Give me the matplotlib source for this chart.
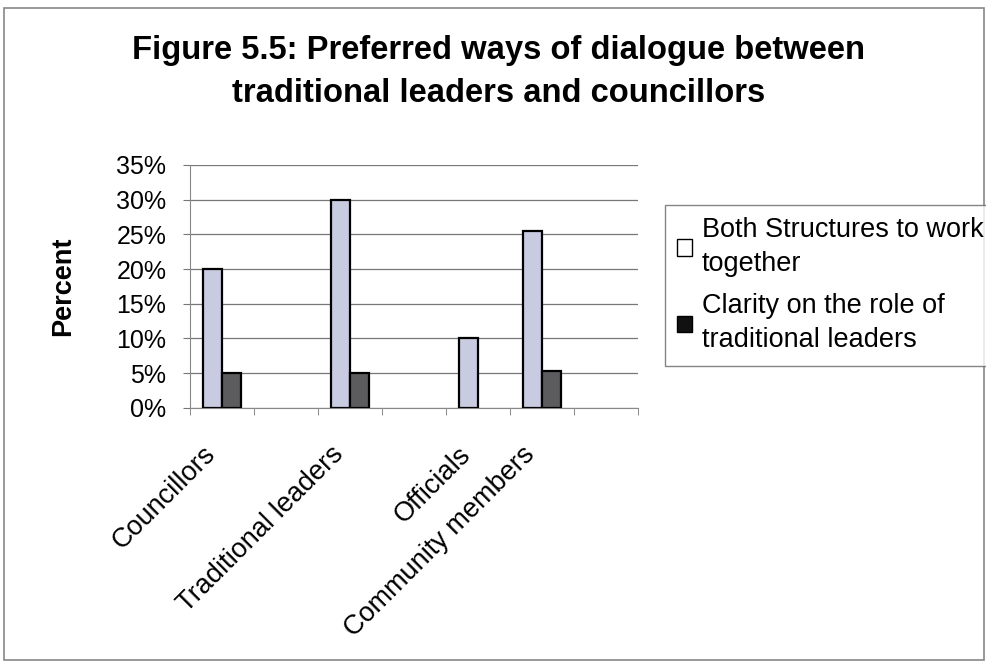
import matplotlib
matplotlib.use("Agg")
import matplotlib.pyplot as plt
from matplotlib.patches import Patch, Rectangle
from matplotlib.transforms import ScaledTranslation
import numpy as np

plt.rcParams["font.family"] = ["Liberation Sans", "DejaVu Sans"]

# category slots (blank slots are empty categories in the original sheet)
categories = ["Councillors", "", "Traditional leaders", "", "Officials",
              "Community members", ""]
both_together = [20, 0, 30, 0, 10, 25.5, 0]
clarity_role = [5, 0, 5, 0, 0, 5.3, 0]
yticks = [0, 5, 10, 15, 20, 25, 30, 35]

fig = plt.figure(figsize=(9.87, 6.72), dpi=100)
ax = fig.add_axes([0.1925, 0.393, 0.454, 0.3616])

x = np.arange(len(categories))
w = 0.3
light = "#c9cbe0"
dark = "#5c5c5e"
for i in range(len(categories)):
    if both_together[i] > 0:
        ax.bar(x[i] - w / 2, both_together[i], w, color=light,
               edgecolor="black", linewidth=1.6, zorder=3)
    if clarity_role[i] > 0:
        ax.bar(x[i] + w / 2, clarity_role[i], w, color=dark,
               edgecolor="black", linewidth=1.6, zorder=3)

ax.set_xlim(-0.5, len(categories) - 0.5)
ax.set_ylim(0, 35)
ax.set_yticks(yticks)
ax.set_yticklabels([f"{v}%" for v in yticks], fontsize=18)
ax.grid(axis="y", color="#777777", linewidth=0.9, zorder=0)
ax.set_axisbelow(True)

ax.set_xticks(x)
ax.set_xticklabels(categories, rotation=45, ha="right",
                   rotation_mode="anchor", fontsize=19.5)
ax.tick_params(axis="x", length=0, pad=24)
shift = ScaledTranslation(-0.2, 0, fig.dpi_scale_trans)
for lbl in ax.get_xticklabels():
    lbl.set_transform(lbl.get_transform() + shift)
ax.set_xticks(np.arange(-0.5, len(categories)), minor=True)
ax.tick_params(axis="x", which="minor", length=5, color="#777777")
ax.tick_params(axis="y", length=5, color="#777777", pad=12)

for s in ["top", "right"]:
    ax.spines[s].set_visible(False)
for s in ["left", "bottom"]:
    ax.spines[s].set_color("#888888")

ax.set_ylabel("Percent", fontsize=19.5, fontweight="bold", labelpad=29)

fig.text(0.505, 0.893, "Figure 5.5: Preferred ways of dialogue between\ntraditional leaders and councillors",
         ha="center", va="center", fontsize=23.6, fontweight="bold",
         linespacing=1.5)

handles = [Patch(facecolor="white", edgecolor="black"),
           Patch(facecolor="#111111", edgecolor="black")]
labels = ["Both Structures to work\ntogether", "Clarity on the role of\ntraditional leaders"]
leg = fig.legend(handles, labels, loc="upper left", bbox_to_anchor=(0.674, 0.695),
                 fontsize=19.5, frameon=True, fancybox=False, handlelength=0.55,
                 handleheight=0.55, handletextpad=0.35, borderpad=0.45,
                 labelspacing=0.6, borderaxespad=0)
for t in leg.get_texts():
    t.set_linespacing(1.4)
leg.get_frame().set_edgecolor("#666666")
leg.get_frame().set_linewidth(1.0)

# outer chart frame
fig.patches.append(Rectangle((0.004, 0.018), 0.993, 0.97, transform=fig.transFigure,
                             fill=False, edgecolor="#888888", linewidth=1.2))

fig.savefig("out.png", dpi=100)
